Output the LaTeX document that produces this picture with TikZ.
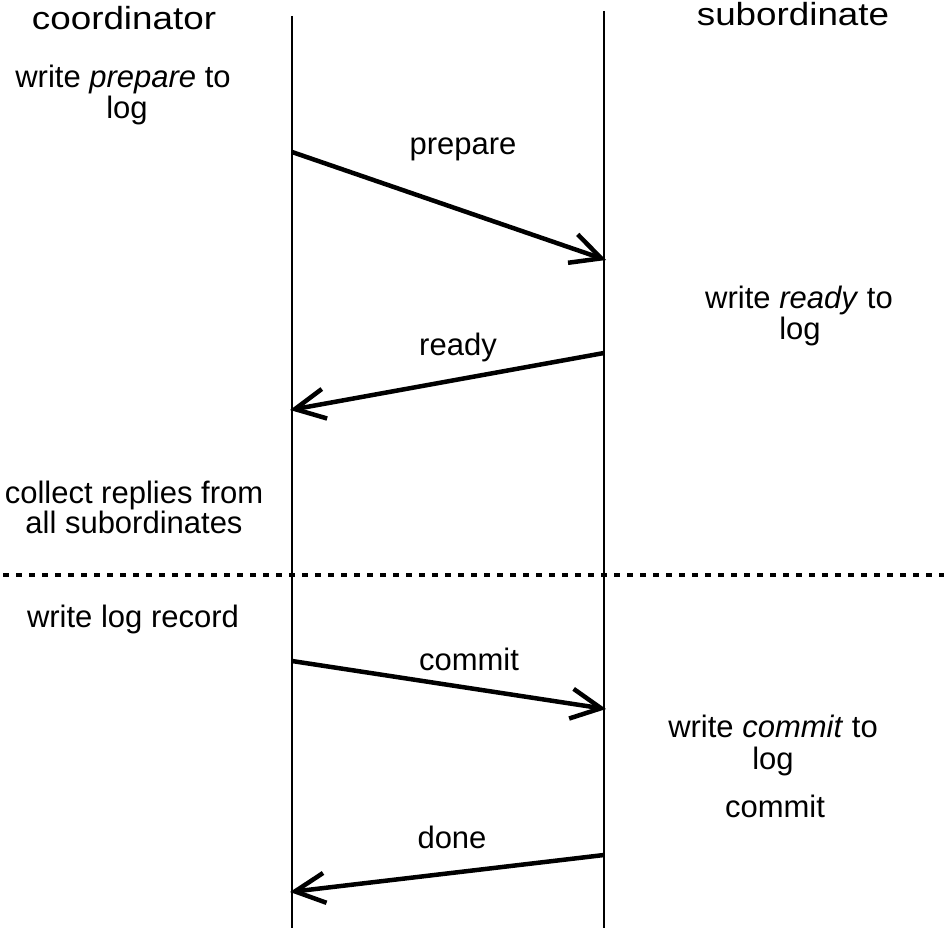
\documentclass[tikz,border=0pt]{standalone}
\usepackage{fontspec}
\setmainfont{Liberation Sans}
\newfontfamily\ttlfont[FakeStretch=1.15]{Liberation Sans}
\usetikzlibrary{arrows.meta}
\begin{document}
\begin{tikzpicture}[x=1pt,y=-1pt,
  lbl/.style={anchor=base,inner sep=0pt,font=\fontsize{31}{33}\selectfont},
  ttl/.style={anchor=base,inner sep=0pt,font=\ttlfont\fontsize{32}{34}\selectfont},
  life/.style={line width=2pt},
  msg/.style={line width=4.5pt,-{Straight Barb[length=30pt,width=30pt,line width=4.5pt]}},
  sep/.style={line width=4.5pt,dash pattern=on 6pt off 7pt}]
\useasboundingbox (0,0) rectangle (944,933);
% lifelines
\coordinate (ct) at (292,16); \coordinate (cb) at (292,928);
\coordinate (st) at (604,11); \coordinate (sb) at (604,928);
\draw[life] (ct) -- (cb);
\draw[life] (st) -- (sb);
% separator
\coordinate (dl) at (3,575); \coordinate (dr) at (944,575);
\draw[sep] (dl) -- (dr);
% titles
\node[ttl] (coord) at (124,30) {coordinator};
\node[ttl] (sub) at (793,26) {subordinate};
% coordinator notes
\node[lbl] (wp1) at (123,88) {write \textit{prepare} to};
\node[lbl] (wp2) at (127,119) {log};
\node[lbl] (cr1) at (134,503) {collect replies from};
\node[lbl] (cr2) at (134,533) {all subordinates};
\node[lbl] (wlr) at (133,627) {write log record};
% subordinate notes
\node[lbl] (wr1) at (799,308) {write \textit{ready} to};
\node[lbl] (wr2) at (800,339) {log};
\node[lbl] (wc1) at (773,737) {write \textit{commit} to};
\node[lbl] (wc2) at (773,769) {log};
\node[lbl] (cm) at (775,817) {commit};
% messages
\coordinate (p1) at (292,152); \coordinate (p2) at (606,260);
\coordinate (r1) at (604,353); \coordinate (r2) at (290,410);
\coordinate (c1) at (292,661); \coordinate (c2) at (606,709);
\coordinate (d1) at (604,855); \coordinate (d2) at (290,892);
\draw[msg] (p1) -- (p2);
\draw[msg] (r1) -- (r2);
\draw[msg] (c1) -- (c2);
\draw[msg] (d1) -- (d2);
\node[lbl] (lp) at (463,155) {prepare};
\node[lbl] (lr) at (458,355) {ready};
\node[lbl] (lc) at (469,670) {commit};
\node[lbl] (ld) at (452,848) {done};
\end{tikzpicture}
\end{document}
